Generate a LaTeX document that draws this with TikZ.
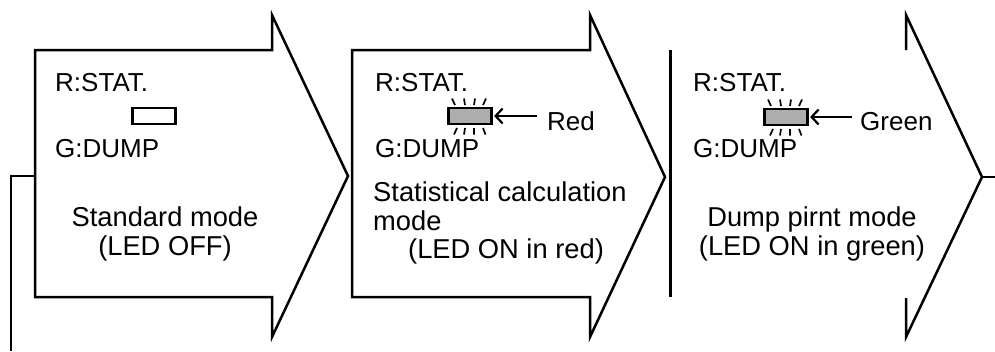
\documentclass[tikz,border=0pt]{standalone}
\usepackage{fontspec}
\setmainfont{Liberation Sans}
\usetikzlibrary{arrows.meta,calc}
\begin{document}
\begin{tikzpicture}[x=1pt,y=-1pt,
  outline/.style={line width=2.5pt, line join=miter},
  bar/.style={line width=3pt},
  lbl/.style={font=\fontsize{26}{28}\selectfont, inner sep=0pt, anchor=base west},
  modetxt/.style={font=\fontsize{27.3}{28.5}\selectfont, inner sep=0pt, anchor=north},
  led/.style={draw, line width=2.6pt, minimum width=43pt, minimum height=16pt, inner sep=0pt},
  ledon/.style={led, fill=black!32},
  ledptr/.style={line width=2.2pt, shorten >=1.3pt, -{Straight Barb[length=7pt,width=15pt,line width=2.2pt]}},
  ledrays/.pic={
    \draw[line width=1.7pt]
      (-15,-11) -- (-18,-17.5)  (-5,-11) -- (-6,-17.5)  (4,-11) -- (5,-17.5)  (13,-11) -- (16,-17.5)
      (-13,12) -- (-16,18.5)  (-5,12) -- (-6,18.5)  (4,12) -- (4,18.5)  (13,12) -- (15.5,18.5);
  }
]
\useasboundingbox (0,0) rectangle (995,351);

% arrow 1
\draw[outline] (35,50) -- (272,50) -- (272,15) -- (348,176) -- (272,337) -- (272,297) -- (35,297) -- cycle;
% arrow 2
\draw[outline] (352,50) -- (590,50) -- (590,15) -- (665,177) -- (590,337) -- (590,297) -- (352,297) -- cycle;
% arrow 3 (partial)
\draw[outline] (906,50) -- (906,15) -- (982,177) -- (906,337) -- (906,298);
\coordinate (tip3) at (982,177);
\coordinate (rend) at (995,177);
\draw[outline] (tip3) -- (rend);
% vertical bar
\coordinate (bartop) at (670,50);
\coordinate (barbot) at (670,297);
\draw[bar] (bartop) -- (barbot);
% left return line
\coordinate (la) at (35,176);
\coordinate (lb) at (11,351);
\draw[bar, line width=2.8pt] (la) -- (la -| lb) -- (lb);

% panel 1
\node[lbl] (r1) at (55,91) {R:STAT.};
\node[lbl] (g1) at (55,157) {G:DUMP};
\node[led, fill=white] (led1) at (154,116) {};
\node[modetxt, align=center] (m1) at (165,207) {Standard mode\\(LED OFF)};

% panel 2
\node[lbl] (r2) at (375,91) {R:STAT.};
\node[lbl] (g2) at (375,157) {G:DUMP};
\node[ledon] (led2) at (470,116) {};
\pic at (led2.center) {ledrays};
\node[lbl] (red) at (547,130) {Red};
\draw[ledptr] ($(red.west |- led2.east)+(-10,0)$) -- (led2.east);
\node[modetxt, align=left, anchor=north west] (m2) at (373,182) {Statistical calculation\\mode\\\hspace*{35pt}(LED ON in red)};

% panel 3
\node[lbl] (r3) at (693,91) {R:STAT.};
\node[lbl] (g3) at (693,157) {G:DUMP};
\node[ledon] (led3) at (786,117) {};
\pic at (led3.center) {ledrays};
\node[lbl] (green) at (860,130) {Green};
\draw[ledptr] ($(green.west |- led3.east)+(-8,0)$) -- (led3.east);
\node[modetxt, align=center] (m3) at (812,207) {Dump pirnt mode\\(LED ON in green)};
\end{tikzpicture}
\end{document}
